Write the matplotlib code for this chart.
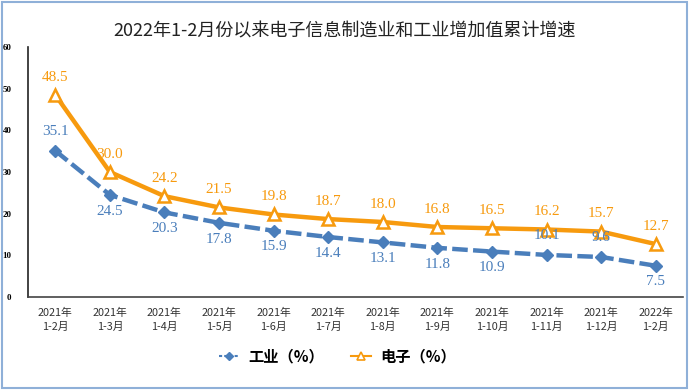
import matplotlib.pyplot as plt
from matplotlib.lines import Line2D
from matplotlib.patches import Rectangle

plt.rcParams['font.family'] = ['Noto Sans CJK SC', 'DejaVu Sans']

months = ['2021年\n1-2月', '2021年\n1-3月', '2021年\n1-4月', '2021年\n1-5月',
          '2021年\n1-6月', '2021年\n1-7月', '2021年\n1-8月', '2021年\n1-9月',
          '2021年\n1-10月', '2021年\n1-11月', '2021年\n1-12月', '2022年\n1-2月']
industry = [35.1, 24.5, 20.3, 17.8, 15.9, 14.4, 13.1, 11.8, 10.9, 10.1, 9.6, 7.5]
electronics = [48.5, 30.0, 24.2, 21.5, 19.8, 18.7, 18.0, 16.8, 16.5, 16.2, 15.7, 12.7]
ind_label_above = [True] + [False] * 8 + [True, True, False]

blue = '#4a7ebb'
orange = '#f79a0e'

fig = plt.figure(figsize=(6.89, 3.90), dpi=100)
ax = fig.add_axes([28 / 689, 1 - 297 / 390, 655 / 689, 250 / 390])

x = range(len(months))
ax.plot(x, industry, color=blue, lw=3.2, dashes=(3.5, 1.2), marker='D', ms=6,
        mfc=blue, mec=blue)
ax.plot(x, electronics, color=orange, lw=3.2, marker='^', ms=9,
        mfc='white', mec=orange, mew=1.8)

for i, v in enumerate(electronics):
    ax.annotate(f'{v:.1f}', (i, v), xytext=(0, 8), textcoords='offset points',
                ha='center', va='bottom', color=orange, fontsize=11,
                family='Liberation Serif')
for i, v in enumerate(industry):
    if ind_label_above[i]:
        off, va = (0, 9), 'bottom'
    else:
        off, va = (0, -7), 'top'
    ax.annotate(f'{v:.1f}', (i, v), xytext=off, textcoords='offset points',
                ha='center', va=va, color=blue, fontsize=11,
                family='Liberation Serif')

ax.set_xlim(-0.5, len(months) - 0.5)
ax.set_ylim(0, 60)
ax.set_yticks(range(0, 61, 10))
ax.set_yticklabels([str(t) for t in range(0, 61, 10)],
                   family='Liberation Serif', fontweight='bold', fontsize=6.5)
ax.set_xticks(list(x))
ax.set_xticklabels(months, fontsize=7.8, color='#333333', linespacing=1.45)
ax.tick_params(axis='both', length=0, pad=8)
ax.tick_params(axis='y', pad=12)
for s in ['top', 'right']:
    ax.spines[s].set_visible(False)
ax.spines['left'].set_linewidth(1.2)
ax.spines['bottom'].set_linewidth(1.2)
ax.spines['left'].set_color('#222222')
ax.spines['bottom'].set_color('#444444')

fig.text(0.5, 1 - 31 / 390, '2022年1-2月份以来电子信息制造业和工业增加值累计增速',
         ha='center', va='center', fontsize=13, color='#222222')

handles = [
    Line2D([], [], color=blue, lw=1.5, ls=(0, (1.5, 1)), marker='D', ms=4.5,
           mfc=blue, mec=blue),
    Line2D([], [], color=orange, lw=1.5, marker='^', ms=6, mfc='white',
           mec=orange, mew=1.2),
]
fig.legend(handles, ['工业（%）', '电子（%）'], loc='center',
           bbox_to_anchor=(0.49, 1 - 356 / 390), ncol=2, frameon=False,
           prop={'size': 11, 'weight': 'bold'}, handlelength=1.3,
           columnspacing=1.8, handletextpad=0.6)

fig.patches.append(Rectangle((0.003, 0.004), 0.994, 0.992, transform=fig.transFigure,
                             fill=False, ec='#8fb0d8', lw=1.5))

fig.savefig('out.png', dpi=100)
